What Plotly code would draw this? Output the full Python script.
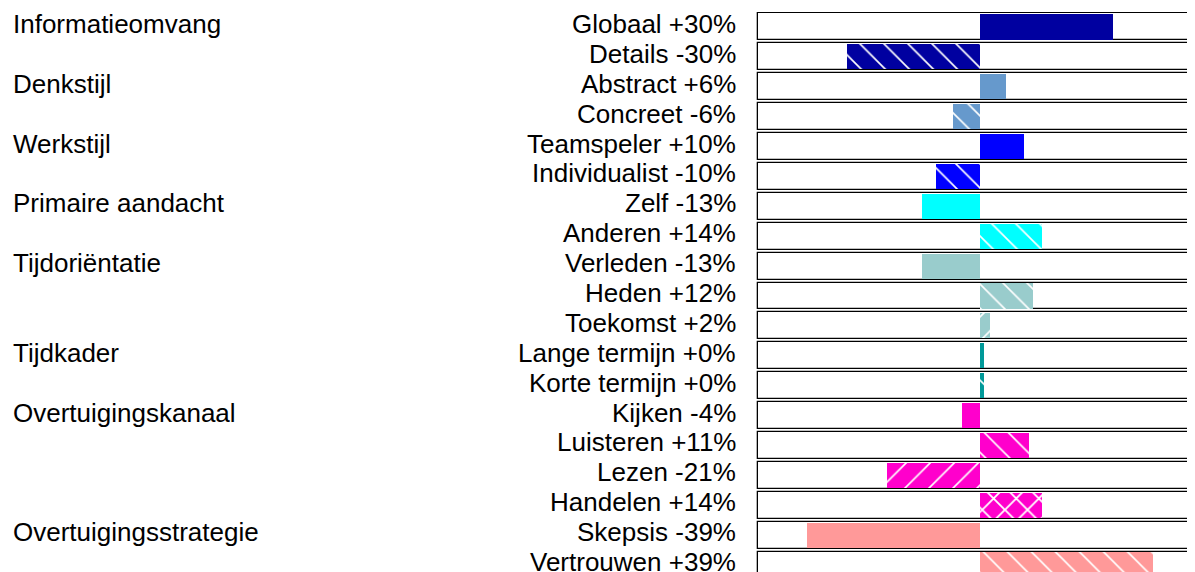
import plotly.graph_objects as go

# ---- data ----
groups = ["Informatieomvang", "Denkstijl", "Werkstijl", "Primaire aandacht",
          "Tijdoriëntatie", "Tijdkader", "Overtuigingskanaal", "Overtuigingsstrategie"]
group_colors = ["#0000A0", "#6699CC", "#0000FF", "#00FFFF",
                "#99CCCC", "#009999", "#FF00CC", "#FF9999"]
labels = ["Globaal +30%", "Details -30%", "Abstract +6%", "Concreet -6%",
          "Teamspeler +10%", "Individualist -10%", "Zelf -13%", "Anderen +14%",
          "Verleden -13%", "Heden +12%", "Toekomst +2%", "Lange termijn +0%",
          "Korte termijn +0%", "Kijken -4%", "Luisteren +11%", "Lezen -21%",
          "Handelen +14%", "Skepsis -39%", "Vertrouwen +39%"]
group_of = [0, 0, 1, 1, 2, 2, 3, 3, 4, 4, 4, 5, 5, 6, 6, 6, 6, 7, 7]
values = [30, -30, 6, -6, 10, -10, -13, 14, -13, 12, 2.2, 1.0, 1.0,
          -4, 11, -21, 14, -39, 39]
patterns = ["", "\\", "", "\\", "", "\\", "", "\\", "", "\\", "/", "", "\\",
            "", "\\", "/", "x", "", "\\"]
scale_min, scale_max = -50, 50

# page has an 8px body margin; figure coordinates are page coordinates - 8
W, H = 1187, 564
plot_left, plot_top = 748, 3.8
center_px = 971.8
px_per_unit = 4.43
row_pitch = 29.9
text_lift = 3  # labels sit a few px above the row centre
label_right = 730
ann_left = 2.7
FONT = "Liberation Sans, Arial, sans-serif"

x_lo = -(center_px - plot_left) / px_per_unit
x_hi = x_lo + (W - plot_left) / px_per_unit
n = len(labels)
y_span = (H - plot_top) / row_pitch
plot_w = W - plot_left

fig = go.Figure()
# frame boxes
fig.add_trace(go.Bar(
    y=labels, x=[scale_max - scale_min] * n, base=scale_min, orientation="h",
    width=0.9, marker=dict(color="white", line=dict(color="black", width=1.3)),
    hoverinfo="skip", showlegend=False))

# value bars, one trace per group (scalar colour so the pattern colours apply)
for gi, col in enumerate(group_colors):
    idx = [i for i, g in enumerate(group_of) if g == gi]
    shp = [patterns[i] for i in idx]
    fig.add_trace(go.Bar(
        y=[labels[i] for i in idx], x=[values[i] for i in idx],
        orientation="h", width=0.84, name=groups[gi],
        marker=dict(color=col, line=dict(width=0),
                    pattern=dict(shape=shp, fgcolor="white", bgcolor=col,
                                 fgopacity=1,
                                 size=[16 if p == "x" else 17 for p in shp],
                                 solidity=[0.22 if p == "x" else 0.1 for p in shp],
                                 fillmode="replace")),
        showlegend=False))

# row labels (right aligned, next to the boxes)
for lab in labels:
    fig.add_annotation(text=lab, xref="paper", yref="y",
                       x=(label_right - plot_left) / plot_w, y=lab,
                       xanchor="right", yanchor="middle", showarrow=False,
                       yshift=text_lift,
                       font=dict(size=26, color="black", family=FONT))

# group labels (left aligned)
for gi, g in enumerate(groups):
    first = labels[group_of.index(gi)]
    fig.add_annotation(text=g, xref="paper", yref="y",
                       x=(ann_left - plot_left) / plot_w, y=first,
                       xanchor="left", yanchor="middle", showarrow=False,
                       yshift=text_lift,
                       font=dict(size=26, color="black", family=FONT))

fig.update_layout(
    width=W, height=H, barmode="overlay", bargap=0,
    margin=dict(l=plot_left, r=0, t=plot_top, b=0, pad=0, autoexpand=False),
    plot_bgcolor="white", paper_bgcolor="white",
    font=dict(family=FONT, size=26, color="black"),
    xaxis=dict(range=[x_lo, x_hi], showgrid=False, zeroline=False, automargin=False,
               showticklabels=False, showline=False, fixedrange=True),
    yaxis=dict(type="category", categoryorder="array", categoryarray=labels,
               automargin=False, showticklabels=False,
               range=[-0.5 + y_span, -0.5], showgrid=False, zeroline=False,
               showline=False, ticks="", fixedrange=True),
)
fig.write_html("out.html")
